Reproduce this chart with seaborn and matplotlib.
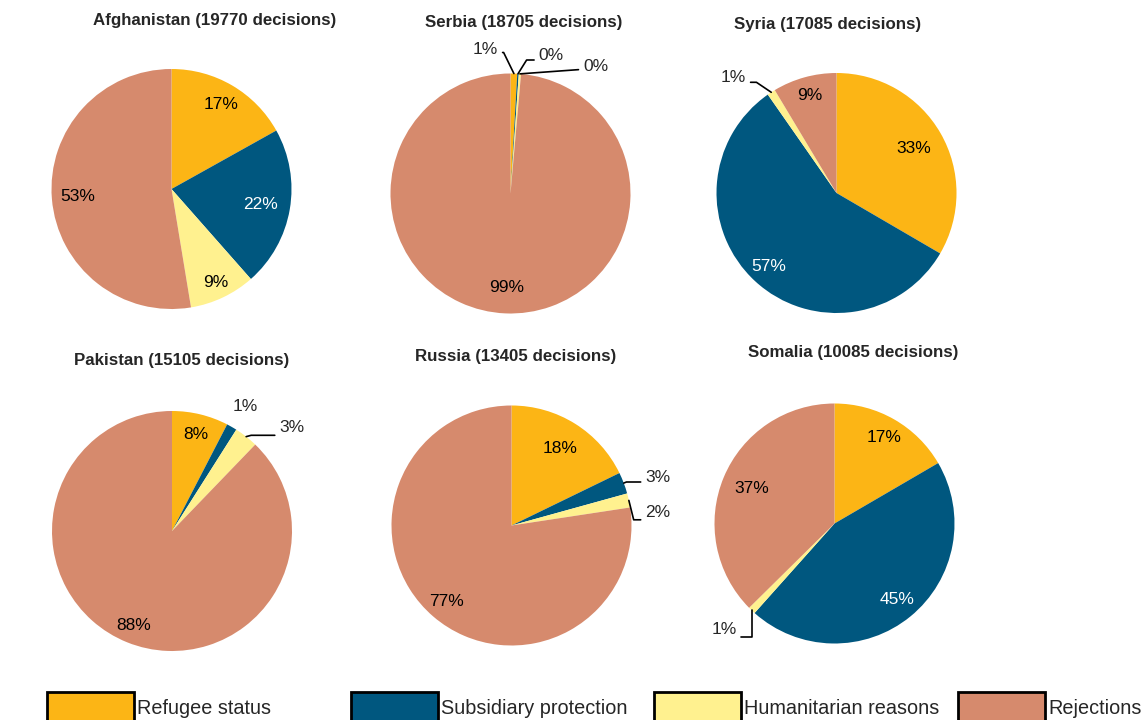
import numpy as np
import seaborn as sns
import matplotlib.pyplot as plt
from matplotlib.patches import Patch

# asylum decisions by country of origin, shares in percent
countries = ['Afghanistan', 'Serbia', 'Syria', 'Pakistan', 'Russia', 'Somalia']
decisions = [19770, 18705, 17085, 15105, 13405, 10085]
categories = ['Refugee status', 'Subsidiary protection', 'Humanitarian reasons', 'Rejections']
refugee = [16.9, 0.9, 33.4, 7.6, 17.8, 16.6]
subsidiary = [21.6, 0.2, 56.9, 1.4, 2.9, 45.0]
humanitarian = [8.9, 0.3, 1.1, 3.2, 1.9, 1.0]
rejections = [52.6, 98.6, 8.6, 87.8, 77.4, 37.4]

sns.set_theme(style='white')
plt.rcParams['font.family'] = ['Liberation Sans', 'DejaVu Sans']
palette = sns.color_palette(['#FCB515', '#00577F', '#FFF18F', '#D68A6D'])

W, H = 1144, 720
R = 120  # pie radius in pixels
centers = [(171.5, 189), (510.5, 193.5), (836.5, 193), (172, 531), (511.5, 525.5), (834.5, 523.5)]
title_pos = [(215, 20), (524, 22), (828, 24), (182, 361), (516, 357), (853, 353)]

# distance of the inside labels from the centre (fraction of radius)
label_dist = [
    [0.82, 0.75, 0.86, 0.78],
    [0.8, 0.8, 0.8, 0.78],
    [0.74, 0.83, 0.8, 0.84],
    [0.83, 0.8, 0.8, 0.85],
    [0.76, 0.8, 0.8, 0.83],
    [0.83, 0.82, 0.8, 0.75],
]

# small slices labelled outside: index -> (text pos, connection style, relpos)
callouts = [
    {},
    {0: ((-0.21, 1.20), 'angle,angleA=0,angleB=116,rad=0', (1, 0.3)),
     1: ((0.34, 1.15), 'angle,angleA=0,angleB=58,rad=0', (0, 0.2)),
     2: ((0.71, 1.06), 'arc3,rad=0', (0, 0.3))},
    {2: ((-0.86, 0.96), 'angle,angleA=0,angleB=146,rad=0', (1, 0.2))},
    {1: ((0.61, 1.04), None, None),
     2: ((1.0, 0.86), 'angle,angleA=0,angleB=15,rad=0', (0, 0))},
    {1: ((1.22, 0.40), 'angle,angleA=0,angleB=22,rad=0', (0, 0.2)),
     2: ((1.22, 0.11), 'angle,angleA=0,angleB=-76,rad=0', (0, 0))},
    {2: ((-0.92, -0.88), 'angle,angleA=0,angleB=-90,rad=0', (1, 0))},
]

fig = plt.figure(figsize=(W / 100, H / 100), dpi=100)
lim = 1.05
side = 2 * lim * R

for k, country in enumerate(countries):
    vals = [refugee[k], subsidiary[k], humanitarian[k], rejections[k]]
    cx, cy = centers[k]
    ax = fig.add_axes([(cx - side / 2) / W, 1 - (cy + side / 2) / H, side / W, side / H])
    wedges, _ = ax.pie(vals, colors=palette, startangle=90, counterclock=False,
                       wedgeprops=dict(linewidth=0))
    ax.set_xlim(-lim, lim)
    ax.set_ylim(-lim, lim)
    ax.set_aspect('equal')
    ax.axis('off')

    for i, (w, v) in enumerate(zip(wedges, vals)):
        txt = f'{round(v)}%'
        mid = np.deg2rad((w.theta1 + w.theta2) / 2)
        if i in callouts[k]:
            pos, conn, rel = callouts[k][i]
            if conn is None:
                ax.text(pos[0], pos[1], txt, ha='center', va='center', fontsize=12.5)
            else:
                ax.annotate(txt, xy=(np.cos(mid), np.sin(mid)), xytext=pos,
                            ha='center', va='center', fontsize=12.5,
                            arrowprops=dict(arrowstyle='-', color='black', lw=1.2,
                                            connectionstyle=conn, relpos=rel,
                                            shrinkA=1, shrinkB=0))
        else:
            d = label_dist[k][i]
            color = 'white' if i == 1 else 'black'
            ax.text(d * np.cos(mid), d * np.sin(mid), txt, ha='center', va='center',
                    fontsize=12.5, color=color)

    tx, ty = title_pos[k]
    fig.text(tx / W, 1 - ty / H, f'{country} ({decisions[k]} decisions)',
             ha='center', va='center', fontsize=12.2, fontweight='bold')

# legend entries spread along the bottom edge
legend_x = [47, 351, 654, 958]
for cat, col, lx in zip(categories, palette, legend_x):
    fig.legend(handles=[Patch(facecolor=col, edgecolor='black', linewidth=2, label=cat)],
               loc='upper left', bbox_to_anchor=(lx / W, 1 - 692 / H), frameon=False,
               fontsize=14.3, handlelength=4.4, handleheight=2.1, handletextpad=0.15,
               borderpad=0, borderaxespad=0)

fig.savefig('out.png', dpi=100)
